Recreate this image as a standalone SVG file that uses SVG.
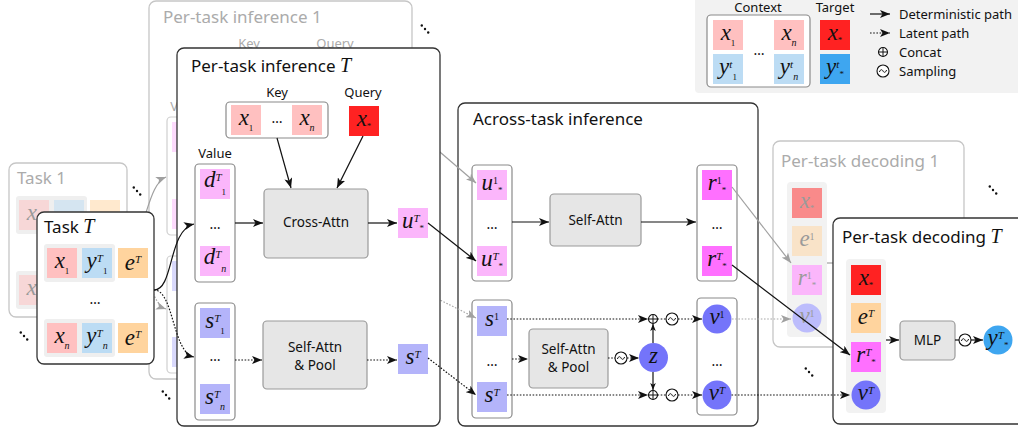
<svg xmlns="http://www.w3.org/2000/svg" width="1018" height="431" viewBox="0 0 1018 431">
<style>
.pn{fill:#fff;stroke:#333;stroke-width:1.3}
.pf{fill:#fff;stroke:#c6c6c6;stroke-width:1.3}
.ib{fill:#fff;stroke:#8a8a8a;stroke-width:1.2}
.ibf{fill:#fff;stroke:#cfcfcf;stroke-width:1.2}
.op{fill:#e6e6e6;stroke:#9a9a9a;stroke-width:1.2}
.bg{fill:#efefef}
.cx{fill:#ffc0c0}.cy{fill:#bcdcf4}.ce{fill:#ffd49e}.cxs{fill:#ff2222}.cys{fill:#3ea6f0}
.cd{fill:#fbb6fb}.cr{fill:#ff70ff}.cs{fill:#b4b4fa}.cv{fill:#7474fa}
.fd{opacity:.5}
.t{font-family:"Noto Sans","Open Sans",sans-serif;fill:#111}
.tt{font-size:17px}
.tl{font-size:13px}
.tb{font-size:13.5px;text-anchor:middle}
.tf{fill:#ababab}
.mt{font-family:"Liberation Serif",serif;font-style:italic;font-size:20px}
.m{font-family:"Liberation Serif",serif;font-style:italic;font-size:23px;fill:#111;text-anchor:middle}
.mf{fill:#9a9a9a}
.p{font-size:11px}
.pu{font-size:10px;font-style:normal}
.s{font-size:9px;font-style:normal}
.si{font-size:10px}
.dd{font-family:"Noto Sans",sans-serif;font-size:14px;fill:#111;text-anchor:middle}
.ln{stroke:#111;stroke-width:1.2;fill:none}
.dt{stroke:#111;stroke-width:1.2;fill:none;stroke-dasharray:1.6 1.6}
.lg{stroke:#a0a0a0;stroke-width:1.2;fill:none}
.lgd{stroke:#a8a8a8;stroke-width:1.2;fill:none;stroke-dasharray:1.6 1.6}
</style>
<defs>
<marker id="a" viewBox="0 0 10 8" refX="10" refY="4" markerWidth="10" markerHeight="8" markerUnits="userSpaceOnUse" orient="auto"><path d="M0,0 L10,4 L0,8 L2.5,4 Z" fill="#111"/></marker>
<marker id="ag" viewBox="0 0 10 8" refX="10" refY="4" markerWidth="10" markerHeight="8" markerUnits="userSpaceOnUse" orient="auto"><path d="M0,0 L10,4 L0,8 L2.5,4 Z" fill="#a0a0a0"/></marker>
<marker id="asm" viewBox="0 0 10 8" refX="10" refY="4" markerWidth="7" markerHeight="5.6" markerUnits="userSpaceOnUse" orient="auto"><path d="M0,0 L10,4 L0,8 L2.5,4 Z" fill="#111"/></marker>
<g id="smp"><circle r="6" fill="#fff" stroke="#111" stroke-width="1.1"/><path d="M-3.6,1 C-2.4,-2.2 -0.8,-1.6 0,0 S2.4,2.2 3.6,-1" fill="none" stroke="#111" stroke-width="1"/></g>
<g id="cat"><circle r="4.5" fill="#fff" stroke="#111" stroke-width="1.1"/><path d="M-4.5,0 H4.5 M0,-4.5 V4.5" stroke="#111" stroke-width="1"/></g>
<g id="dots3"><circle cx="-3.2" cy="-3.5" r="1.2" fill="#111"/><circle cx="0" cy="0" r="1.2" fill="#111"/><circle cx="3.2" cy="3.5" r="1.2" fill="#111"/></g>
</defs>

<g id="legend">
<rect x="695" y="-6" width="330" height="99" rx="4" fill="#f2f2f2"/>
<text class="t tl" x="758" y="12" text-anchor="middle">Context</text>
<text class="t tl" x="835" y="12" text-anchor="middle">Target</text>
<rect class="ib" x="707" y="15" width="103" height="72" rx="4"/>
<rect class="cx" x="713" y="20" width="30" height="30"/>
<text class="m" x="728" y="40">x<tspan class="s" dy="6">1</tspan></text>
<rect class="cx" x="774" y="20" width="30" height="30"/>
<text class="m" x="789" y="40">x<tspan class="si" dy="6">n</tspan></text>
<rect class="cy" x="713" y="54" width="30" height="30"/>
<text class="m" x="728" y="74">y<tspan class="p" dy="-6">t</tspan><tspan class="s" dy="12">1</tspan></text>
<rect class="cy" x="774" y="54" width="30" height="30"/>
<text class="m" x="789" y="74">y<tspan class="p" dy="-6">t</tspan><tspan class="si" dy="12">n</tspan></text>
<text class="dd" x="759" y="55">…</text>
<rect class="cxs" x="820" y="20" width="30" height="30"/>
<text class="m" x="835" y="40">x<tspan class="s" dy="3">*</tspan></text>
<rect class="cys" x="820" y="54" width="30" height="30"/>
<text class="m" x="835" y="74">y<tspan class="p" dy="-6">t</tspan><tspan class="s" dy="9">*</tspan></text>
<path class="ln" d="M870,14 H890" marker-end="url(#a)"/>
<path class="dt" d="M870,33 H890" marker-end="url(#a)"/>
<use href="#cat" x="883" y="52"/>
<use href="#smp" x="883" y="71"/>
<text class="t tl" x="899" y="19">Deterministic path</text>
<text class="t tl" x="899" y="38">Latent path</text>
<text class="t tl" x="899" y="57">Concat</text>
<text class="t tl" x="899" y="76">Sampling</text>
</g>

<g id="per-task-inference-1">
<rect class="pf" x="149" y="1" width="263" height="378" rx="7"/>
<text class="t tt tf" x="163" y="23">Per-task inference 1</text>
<text class="t tl tf" x="249" y="48" text-anchor="middle">Key</text>
<text class="t tl tf" x="335" y="48" text-anchor="middle">Query</text>
<text class="t tl tf" x="187" y="111" text-anchor="middle">Value</text>
<rect class="ibf" x="167" y="117" width="40" height="118" rx="4"/>
<rect class="cd fd" x="172" y="122" width="30" height="30"/>
<rect class="cd fd" x="172" y="199" width="30" height="30"/>
<rect class="ibf" x="167" y="256" width="40" height="117" rx="4"/>
<rect class="cs fd" x="172" y="261" width="30" height="30"/>
<rect class="cs fd" x="172" y="337" width="30" height="30"/>
</g>

<g id="task-1">
<rect class="pf" x="9" y="163" width="118" height="154" rx="7"/>
<text class="t tt tf" x="17" y="184">Task 1</text>
<rect class="bg" x="16" y="196" width="71" height="38" rx="3"/>
<rect class="cx fd" x="19" y="200" width="30" height="30"/>
<text class="m mf" x="34" y="220">x<tspan class="s" dy="6">1</tspan></text>
<rect class="cy fd" x="54" y="200" width="30" height="30"/>
<rect class="ce fd" x="90" y="200" width="30" height="30"/>
<rect class="bg" x="16" y="271" width="71" height="38" rx="3"/>
<rect class="cx fd" x="19" y="275" width="30" height="30"/>
<text class="m mf" x="34" y="295">x<tspan class="si" dy="6">n</tspan></text>
</g>

<g id="across-task-inference">
<rect class="pn" x="458" y="103" width="300" height="323" rx="7"/>
<text class="t tt" x="473" y="125">Across-task inference</text>
<rect class="ib" x="472" y="165" width="40" height="116" rx="4"/>
<rect class="cd" x="477" y="170" width="30" height="30"/>
<text class="m" x="492" y="190">u<tspan class="pu" dy="-6">1</tspan><tspan class="s" dy="9">*</tspan></text>
<text class="dd" x="492" y="229">…</text>
<rect class="cd" x="477" y="246" width="30" height="30"/>
<text class="m" x="492" y="266">u<tspan class="p" dy="-6">T</tspan><tspan class="s" dy="9">*</tspan></text>
<rect class="op" x="550" y="194" width="91" height="52" rx="4"/>
<text class="t tb" x="595.5" y="225">Self-Attn</text>
<rect class="ib" x="697" y="165" width="40" height="116" rx="4"/>
<rect class="cr" x="702" y="170" width="30" height="30"/>
<text class="m" x="717" y="190">r<tspan class="pu" dy="-6">1</tspan><tspan class="s" dy="9">*</tspan></text>
<text class="dd" x="717" y="229">…</text>
<rect class="cr" x="702" y="246" width="30" height="30"/>
<text class="m" x="717" y="266">r<tspan class="p" dy="-6">T</tspan><tspan class="s" dy="9">*</tspan></text>
<rect class="ib" x="472" y="300" width="40" height="118" rx="4"/>
<rect class="cs" x="477" y="306" width="30" height="30"/>
<text class="m" x="492" y="326">s<tspan class="pu" dy="-6">1</tspan></text>
<text class="dd" x="492" y="366">…</text>
<rect class="cs" x="477" y="382" width="30" height="30"/>
<text class="m" x="492" y="402">s<tspan class="p" dy="-6">T</tspan></text>
<rect class="op" x="529" y="329" width="79" height="59" rx="4"/>
<text class="t tb" x="568.5" y="354">Self-Attn</text>
<text class="t tb" x="568.5" y="372">&amp; Pool</text>
<use href="#smp" x="621" y="358"/>
<circle class="cv" cx="653.5" cy="357.5" r="14.5"/>
<text class="m" x="653.5" y="363">z</text>
<use href="#cat" x="653" y="319"/>
<use href="#cat" x="653" y="395"/>
<use href="#smp" x="672" y="319"/>
<use href="#smp" x="672" y="395"/>
<rect class="ib" x="697" y="298" width="40" height="117" rx="4"/>
<circle class="cv" cx="717" cy="319" r="14.5"/>
<text class="m" x="717" y="324">v<tspan class="pu" dy="-6">1</tspan></text>
<text class="dd" x="717" y="366">…</text>
<circle class="cv" cx="717" cy="395" r="14.5"/>
<text class="m" x="717" y="400">v<tspan class="p" dy="-6">T</tspan></text>
</g>

<g id="per-task-decoding-1">
<rect class="pf" x="773" y="141" width="191" height="206" rx="7"/>
<text class="t tt tf" x="781" y="167">Per-task decoding 1</text>
<rect x="787" y="182" width="40" height="155" rx="4" fill="#f2f2f2"/>
<rect class="cxs fd" x="792" y="188" width="30" height="30"/>
<text class="m mf" x="807" y="208">x<tspan class="s" dy="3">*</tspan></text>
<rect class="ce fd" x="792" y="226" width="30" height="30"/>
<text class="m mf" x="807" y="246">e<tspan class="pu" dy="-6">1</tspan></text>
<rect class="cd" x="792" y="265" width="30" height="30"/>
<text class="m mf" x="807" y="285">r<tspan class="pu" dy="-6">1</tspan><tspan class="s" dy="9">*</tspan></text>
<circle cx="807" cy="318" r="14.5" fill="#bcbcfc"/>
<text class="m mf" x="807" y="323">v<tspan class="pu" dy="-6">1</tspan></text>
</g>

<g id="connectors-faded">
<path class="lg" d="M126,242 C146,242 146,185 166,177" marker-end="url(#ag)"/>
<path class="lgd" d="M126,242 C146,242 146,302 166,309" marker-end="url(#ag)"/>
<path class="lg" d="M412,128 L476,183" marker-end="url(#ag)"/>
<path class="lgd" d="M412,286 L476,318" marker-end="url(#ag)"/>
<path class="lg" d="M732,187 L791,263" marker-end="url(#ag)"/>
<path class="lgd" d="M732,319 L791,319" marker-end="url(#ag)"/>
<path class="lg" d="M827,263 L845,263"/>
</g>

<g id="per-task-inference-T">
<rect class="pn" x="177" y="48" width="263" height="378" rx="7"/>
<text class="t tt" x="191" y="72">Per-task inference <tspan class="mt">T</tspan></text>
<text class="t tl" x="277" y="97" text-anchor="middle">Key</text>
<rect class="ib" x="226" y="102" width="102" height="36" rx="4"/>
<rect class="cx" x="231" y="105" width="30" height="30"/>
<text class="m" x="246" y="125">x<tspan class="s" dy="6">1</tspan></text>
<text class="dd" x="277" y="123">…</text>
<rect class="cx" x="292" y="105" width="30" height="30"/>
<text class="m" x="307" y="125">x<tspan class="si" dy="6">n</tspan></text>
<text class="t tl" x="363" y="97" text-anchor="middle">Query</text>
<rect class="cxs" x="349" y="106" width="30" height="30"/>
<text class="m" x="364" y="126">x<tspan class="s" dy="3">*</tspan></text>
<text class="t tl" x="215" y="158" text-anchor="middle">Value</text>
<rect class="ib" x="195" y="164" width="40" height="118" rx="4"/>
<rect class="cd" x="200" y="169" width="30" height="30"/>
<text class="m" x="215" y="187">d<tspan class="p" dy="-6">T</tspan><tspan class="s" dy="14">1</tspan></text>
<text class="dd" x="215" y="229">…</text>
<rect class="cd" x="200" y="246" width="30" height="30"/>
<text class="m" x="215" y="264">d<tspan class="p" dy="-6">T</tspan><tspan class="si" dy="14">n</tspan></text>
<rect class="ib" x="195" y="303" width="40" height="117" rx="4"/>
<rect class="cs" x="200" y="308" width="30" height="30"/>
<text class="m" x="215" y="328">s<tspan class="p" dy="-6">T</tspan><tspan class="s" dy="12">1</tspan></text>
<text class="dd" x="215" y="361">…</text>
<rect class="cs" x="200" y="384" width="30" height="30"/>
<text class="m" x="215" y="404">s<tspan class="p" dy="-6">T</tspan><tspan class="si" dy="12">n</tspan></text>
<rect class="op" x="264" y="189" width="104" height="69" rx="4"/>
<text class="t tb" x="316" y="227">Cross-Attn</text>
<rect class="op" x="263" y="321" width="104" height="68" rx="4"/>
<text class="t tb" x="315" y="352">Self-Attn</text>
<text class="t tb" x="315" y="370">&amp; Pool</text>
<rect class="cd" x="398" y="208" width="30" height="30"/>
<text class="m" x="413" y="228">u<tspan class="p" dy="-6">T</tspan><tspan class="s" dy="9">*</tspan></text>
<rect class="cs" x="398" y="344" width="30" height="30"/>
<text class="m" x="413" y="364">s<tspan class="p" dy="-6">T</tspan></text>
</g>

<g id="task-T">
<rect class="pn" x="37" y="212" width="117" height="152" rx="7"/>
<text class="t tt" x="44" y="233">Task <tspan class="mt">T</tspan></text>
<rect class="bg" x="44" y="244" width="71" height="38" rx="3"/>
<rect class="cx" x="47" y="248" width="30" height="30"/>
<text class="m" x="62" y="268">x<tspan class="s" dy="6">1</tspan></text>
<rect class="cy" x="82" y="248" width="30" height="30"/>
<text class="m" x="97" y="268">y<tspan class="p" dy="-6">T</tspan><tspan class="s" dy="12">1</tspan></text>
<rect class="ce" x="118" y="248" width="30" height="30"/>
<text class="m" x="133" y="270">e<tspan class="p" dy="-7">T</tspan></text>
<text class="dd" x="95" y="304">…</text>
<rect class="bg" x="44" y="319" width="71" height="38" rx="3"/>
<rect class="cx" x="47" y="323" width="30" height="30"/>
<text class="m" x="62" y="343">x<tspan class="si" dy="6">n</tspan></text>
<rect class="cy" x="82" y="323" width="30" height="30"/>
<text class="m" x="97" y="343">y<tspan class="p" dy="-6">T</tspan><tspan class="si" dy="12">n</tspan></text>
<rect class="ce" x="118" y="323" width="30" height="30"/>
<text class="m" x="133" y="345">e<tspan class="p" dy="-7">T</tspan></text>
</g>

<g id="per-task-decoding-T">
<rect class="pn" x="833" y="218" width="200" height="206" rx="7"/>
<text class="t tt" x="842" y="243">Per-task decoding <tspan class="mt">T</tspan></text>
<rect x="846" y="259" width="40" height="154" rx="4" fill="#f2f2f2"/>
<rect class="cxs" x="851" y="265" width="30" height="30"/>
<text class="m" x="866" y="285">x<tspan class="s" dy="3">*</tspan></text>
<rect class="ce" x="851" y="303" width="30" height="30"/>
<text class="m" x="866" y="324">e<tspan class="p" dy="-7">T</tspan></text>
<rect class="cr" x="851" y="342" width="30" height="30"/>
<text class="m" x="866" y="362">r<tspan class="p" dy="-6">T</tspan><tspan class="s" dy="9">*</tspan></text>
<circle class="cv" cx="866" cy="395" r="14.5"/>
<text class="m" x="866" y="400">v<tspan class="p" dy="-6">T</tspan></text>
<rect class="op" x="900" y="321" width="55" height="39" rx="4"/>
<text class="t tb" x="927.5" y="345">MLP</text>
<use href="#smp" x="965" y="340"/>
<circle class="cys" cx="998" cy="340" r="14.5"/>
<text class="m" x="998" y="345">y<tspan class="p" dy="-6">T</tspan><tspan class="s" dy="9">*</tspan></text>
</g>

<g id="connectors">
<path class="ln" d="M154,290 C174,290 168,230 194,224" marker-end="url(#a)"/>
<path class="dt" d="M154,290 C174,290 172,352 194,357" marker-end="url(#a)"/>
<path class="ln" d="M277,138 L291,188" marker-end="url(#a)"/>
<path class="ln" d="M363,136 L337,188" marker-end="url(#a)"/>
<path class="ln" d="M235,223 L263,223" marker-end="url(#a)"/>
<path class="ln" d="M368,223 L397,223" marker-end="url(#a)"/>
<path class="dt" d="M235,360 L262,360" marker-end="url(#a)"/>
<path class="dt" d="M367,360 L397,360" marker-end="url(#a)"/>
<path class="ln" d="M428,223 L476,261" marker-end="url(#a)"/>
<path class="dt" d="M428,358 L476,395" marker-end="url(#a)"/>
<path class="ln" d="M512,222 L549,222" marker-end="url(#a)"/>
<path class="ln" d="M641,222 L696,222" marker-end="url(#a)"/>
<path class="dt" d="M512,359 L528,359" marker-end="url(#a)"/>
<path class="dt" d="M608,358 L615,358"/>
<path class="dt" d="M627,358 L639,358" marker-end="url(#a)"/>
<path class="dt" d="M507,319 L648,319" marker-end="url(#a)"/>
<path class="dt" d="M507,395 L648,395" marker-end="url(#a)"/>
<path class="ln" d="M653,343 L653,324" marker-end="url(#asm)"/>
<path class="ln" d="M653,372 L653,390" marker-end="url(#asm)"/>
<path class="dt" d="M657.5,319 L666,319"/>
<path class="dt" d="M678,319 L702,319" marker-end="url(#a)"/>
<path class="dt" d="M657.5,395 L666,395"/>
<path class="dt" d="M678,395 L702,395" marker-end="url(#a)"/>
<path class="ln" d="M732,265 L850,355" marker-end="url(#a)"/>
<path class="dt" d="M731.5,395 L850,395" marker-end="url(#a)"/>
<path class="ln" d="M886,340 L899,340" marker-end="url(#a)"/>
<path class="ln" d="M955,340 L959,340"/>
<path class="ln" d="M971,340 L983,340" marker-end="url(#a)"/>
</g>

<g id="ellipses">
<use href="#dots3" x="137" y="191"/>
<use href="#dots3" x="24" y="336"/>
<use href="#dots3" x="425" y="29"/>
<use href="#dots3" x="166" y="395"/>
<use href="#dots3" x="993" y="190"/>
<use href="#dots3" x="809" y="372"/>
</g>
</svg>
